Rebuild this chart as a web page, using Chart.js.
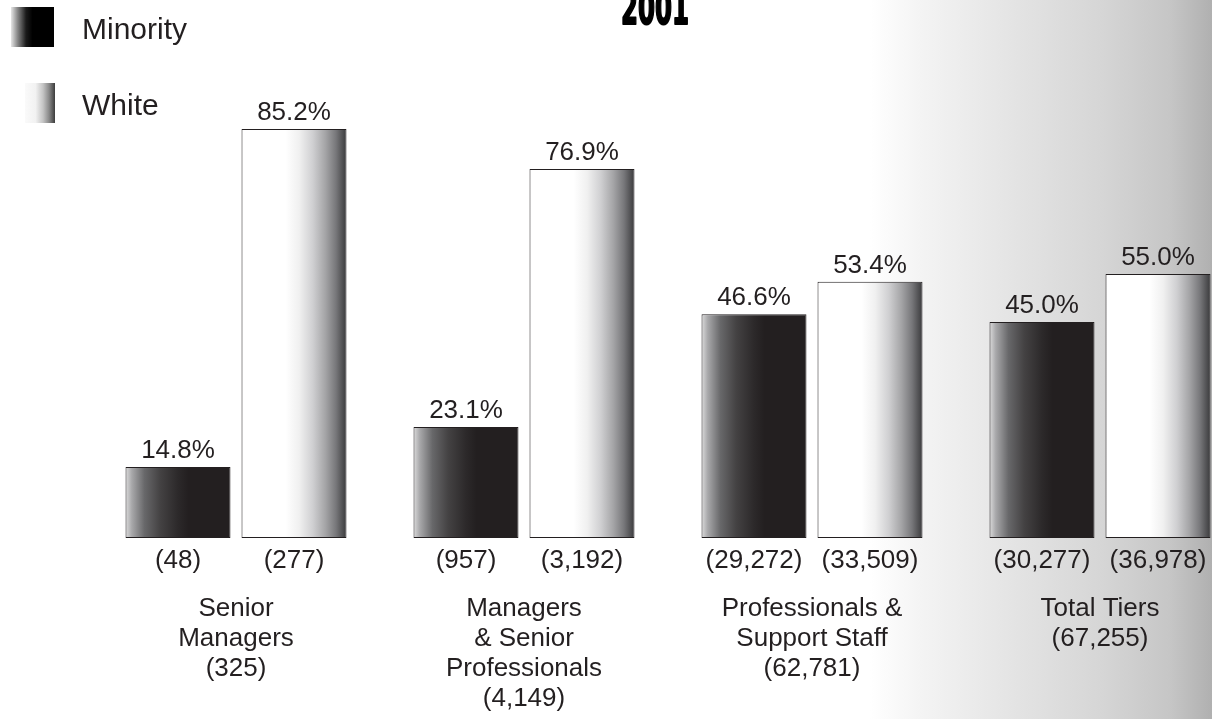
<!DOCTYPE html>
<html>
<head>
<meta charset="utf-8">
<script src="https://cdn.jsdelivr.net/npm/chart.js@4/dist/chart.umd.min.js"></script>
<style>
  html, body {
    margin: 0;
    padding: 0;
    width: 1212px;
    height: 719px;
    overflow: hidden;
  }
  body {
    background: linear-gradient(to right,
      #ffffff 0px, #ffffff 870px, #f4f4f4 920px, #e6e6e6 1000px,
      #d6d6d6 1100px, #c6c6c6 1170px, #b0b0b0 1212px);
  }
  #wrap { position: absolute; left: 0; top: 0; }
</style>
</head>
<body>
<div id="wrap"><canvas id="chart" width="1260" height="719"></canvas></div>
<script>
// Workforce by tier, 2001: share and headcount of minority vs. white staff
const titleText = '2001';
const seriesNames = ['Minority', 'White'];
const tierLabels = [
  ['Senior', 'Managers'],
  ['Managers', '& Senior', 'Professionals'],
  ['Professionals &', 'Support Staff'],
  ['Total Tiers']
];
const minorityPct = [14.8, 23.1, 46.6, 45.0];
const whitePct = [85.2, 76.9, 53.4, 55.0];
const minorityCount = [48, 957, 29272, 30277];
const whiteCount = [277, 3192, 33509, 36978];

const INK = '#231f20';
const FONT = "'Liberation Sans', Arial, Helvetica, sans-serif";
const fmtCount = n => '(' + n.toLocaleString('en-US') + ')';
const totals = minorityCount.map((m, i) => m + whiteCount[i]);

const CAT_PCT = 0.8056;
const BAR_PCT = 0.905;

// horizontal shading for a bar, computed from the x scale geometry
function barGradient(ctx, stops) {
  const fallback = stops[Math.floor(stops.length / 2)][1];
  const chart = ctx.chart;
  const xs = chart.scales && chart.scales.x;
  if (!xs || typeof ctx.dataIndex !== 'number' || typeof ctx.datasetIndex !== 'number') return fallback;
  const n = chart.data.labels.length;
  const catW = (xs.right - xs.left) / n;
  const slot = catW * CAT_PCT / 2;
  const w = slot * BAR_PCT;
  const cx = xs.getPixelForValue(ctx.dataIndex) + (ctx.datasetIndex - 0.5) * slot;
  if (!Number.isFinite(cx) || !Number.isFinite(w) || w <= 0) return fallback;
  const g = chart.ctx.createLinearGradient(cx - w / 2, 0, cx + w / 2, 0);
  stops.forEach(([p, c]) => g.addColorStop(p, c));
  return g;
}

const minorityStops = [
  [0, '#dcdcdc'], [0.06, '#a8a8aa'], [0.18, '#68686a'], [0.33, '#444243'],
  [0.5, '#2c292a'], [0.6, INK], [1, INK]
];
const whiteStops = [
  [0, '#ffffff'], [0.42, '#ffffff'], [0.55, '#f0f0f0'], [0.68, '#cfcfd1'],
  [0.8, '#a4a4a6'], [0.9, '#77777a'], [1, '#3a3a3c']
];

const labelPlugin = {
  id: 'tierLabels',
  afterDatasetsDraw(chart) {
    const c = chart.ctx;
    const area = chart.chartArea;
    const xs = chart.scales.x;
    c.save();
    c.fillStyle = INK;
    c.textAlign = 'center';
    c.textBaseline = 'middle';
    c.font = '26px ' + FONT;

    // percentage above each bar and headcount below it
    chart.data.datasets.forEach((ds, di) => {
      const meta = chart.getDatasetMeta(di);
      const counts = di === 0 ? minorityCount : whiteCount;
      meta.data.forEach((bar, i) => {
        c.fillText(ds.data[i].toFixed(1) + '%', bar.x, bar.y - 16);
        c.fillText(fmtCount(counts[i]), bar.x, area.bottom + 23);
      });
    });

    // tier names with their totals
    tierLabels.forEach((lines, i) => {
      const x = xs.getPixelForValue(i);
      const all = lines.concat([fmtCount(totals[i])]);
      all.forEach((t, k) => c.fillText(t, x, area.bottom + 71 + k * 30));
    });

    // title, partly above the top edge
    c.font = "bold 46px 'Liberation Sans Narrow', 'DejaVu Sans Condensed', " + FONT;
    c.textBaseline = 'alphabetic';
    c.textAlign = 'left';
    const tw = c.measureText(titleText).width;
    c.translate(621, 24);
    c.scale(68 / tw, 1);
    c.strokeStyle = '#000';
    c.fillStyle = '#000';
    c.lineWidth = 2;
    c.lineJoin = 'round';
    c.fillText(titleText, 0, 0);
    c.strokeText(titleText, 0, 0);
    c.restore();

    // legend
    c.save();
    const keys = [
      { y: 7, x0: 11, x1: 54, stops: [[0, '#e6e6e6'], [0.15, '#8a8a8a'], [0.35, '#1a1a1a'], [0.5, '#000'], [1, '#000']] },
      { y: 83, x0: 25, x1: 55, stops: [[0, '#fafafa'], [0.35, '#f2f2f2'], [0.6, '#c4c4c4'], [0.8, '#8a8a8a'], [1, '#3c3c3c']] }
    ];
    keys.forEach((k, i) => {
      const g = c.createLinearGradient(k.x0, 0, k.x1, 0);
      k.stops.forEach(([p, col]) => g.addColorStop(p, col));
      c.fillStyle = g;
      c.fillRect(k.x0, k.y, k.x1 - k.x0, 40);
      c.fillStyle = INK;
      c.font = '30px ' + FONT;
      c.textAlign = 'left';
      c.textBaseline = 'middle';
      c.fillText(seriesNames[i], 82, k.y + 24);
    });
    c.restore();
  }
};

new Chart(document.getElementById('chart'), {
  type: 'bar',
  data: {
    labels: tierLabels.map(l => l.join(' ')),
    datasets: [
      {
        label: seriesNames[0],
        data: minorityPct,
        backgroundColor: ctx => barGradient(ctx, minorityStops),
        borderColor: INK,
        borderWidth: 1,
        borderSkipped: false
      },
      {
        label: seriesNames[1],
        data: whitePct,
        backgroundColor: ctx => barGradient(ctx, whiteStops),
        borderColor: INK,
        borderWidth: 1,
        borderSkipped: false
      }
    ]
  },
  options: {
    responsive: false,
    animation: false,
    devicePixelRatio: 1,
    layout: { padding: { left: 92, right: 16, top: 58, bottom: 181 } },
    categoryPercentage: CAT_PCT,
    barPercentage: BAR_PCT,
    scales: {
      x: { display: false },
      y: { display: false, min: 0, max: 100 }
    },
    plugins: {
      legend: { display: false },
      tooltip: { enabled: false },
      title: { display: false }
    }
  },
  plugins: [labelPlugin]
});
</script>
</body>
</html>
